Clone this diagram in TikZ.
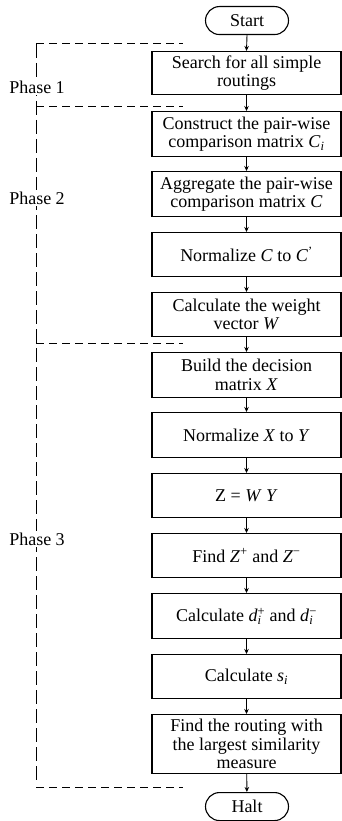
\documentclass[tikz,border=0pt]{standalone}
\usepackage{fontspec}
\setmainfont{Liberation Serif}
\usetikzlibrary{arrows.meta}
\newcommand{\iv}[1]{\textit{#1}}
\newcommand{\stk}[2]{\ooalign{\textsuperscript{#1}\cr\textsubscript{#2}\cr}}
\tikzset{
  x=1pt,y=1pt,
  every node/.style={font=\fontsize{18}{18.5}\selectfont},
  procbox/.style={draw,line width=1.1pt,minimum width=189pt,align=center,anchor=north,inner sep=0pt},
  term/.style={draw,line width=1.1pt,rounded corners=14pt,minimum width=83pt,minimum height=28pt,anchor=north,inner sep=0pt},
  flow/.style={line width=0.9pt,-{Stealth[length=5pt,width=4.5pt]}},
  hdash/.style={line width=1pt,dash pattern=on 8pt off 5pt},
  vdash/.style={line width=1pt,dash pattern=on 14pt off 5pt},
  phase/.style={fill=white,inner sep=1.5pt}
}
\begin{document}
\begin{tikzpicture}
\useasboundingbox (0,0) rectangle (342,-821);
% dashed phase markers
\coordinate (t1) at (36,-44);
\coordinate (t1e) at (183,-44);
\coordinate (t2) at (36,-107);
\coordinate (t2e) at (183,-107);
\coordinate (t3) at (36,-343);
\coordinate (t3e) at (183,-343);
\coordinate (t4) at (36,-787);
\coordinate (t4e) at (183,-787);
\draw[vdash] (t1) -- (36,-780);
\draw[hdash] (t1) -- (t1e);
\draw[hdash] (t2) -- (t2e);
\draw[hdash] (t3) -- (t3e);
\draw[hdash] (t4) -- (t4e);
\node[phase] (p1) at (37,-87) {Phase 1};
\node[phase] (p2) at (37,-198) {Phase 2};
\node[phase] (p3) at (37,-539) {Phase 3};
% flow
\node[term] (start) at (247,-6) {Start};
\node[procbox,minimum height=43pt] (b1) at (246.5,-51) {Search for all simple\\routings};
\node[procbox,minimum height=45pt] (b2) at (246.5,-111) {Construct the pair-wise\\comparison matrix \iv{C}\textsubscript{\iv{i}}};
\node[procbox,minimum height=45pt] (b3) at (246.5,-171) {Aggregate the pair-wise\\comparison matrix \iv{C}};
\node[procbox,minimum height=44pt] (b4) at (246.5,-232) {Normalize \iv{C} to \iv{C}\textsuperscript{\textquoteright}};
\node[procbox,minimum height=44pt] (b5) at (246.5,-292) {Calculate the weight\\vector \iv{W}};
\node[procbox,minimum height=45pt] (b6) at (246.5,-352) {Build the decision\\matrix \iv{X}};
\node[procbox,minimum height=45pt] (b7) at (246.5,-412) {Normalize \iv{X} to \iv{Y}};
\node[procbox,minimum height=44pt] (b8) at (246.5,-473) {Z = \iv{W} \iv{Y}};
\node[procbox,minimum height=44pt] (b9) at (246.5,-533) {Find \iv{Z}\textsuperscript{+} and \iv{Z}\textsuperscript{−}};
\node[procbox,minimum height=45pt] (b10) at (246.5,-593) {Calculate \iv{d}\stk{+}{\iv{i}} and \iv{d}\stk{−}{\iv{i}}};
\node[procbox,minimum height=44pt] (b11) at (246.5,-654) {Calculate \iv{s}\textsubscript{\iv{i}}};
\node[procbox,minimum height=59pt] (b12) at (246.5,-714) {Find the routing with\\the largest similarity\\measure};
\node[term] (halt) at (247,-792) {Halt};
\draw[flow] (start.south) -- (b1.north);
\draw[flow] (b1) -- (b2);
\draw[flow] (b2) -- (b3);
\draw[flow] (b3) -- (b4);
\draw[flow] (b4) -- (b5);
\draw[flow] (b5) -- (b6);
\draw[flow] (b6) -- (b7);
\draw[flow] (b7) -- (b8);
\draw[flow] (b8) -- (b9);
\draw[flow] (b9) -- (b10);
\draw[flow] (b10) -- (b11);
\draw[flow] (b11) -- (b12);
\draw[flow] (b12) -- (halt);
\end{tikzpicture}
\end{document}
